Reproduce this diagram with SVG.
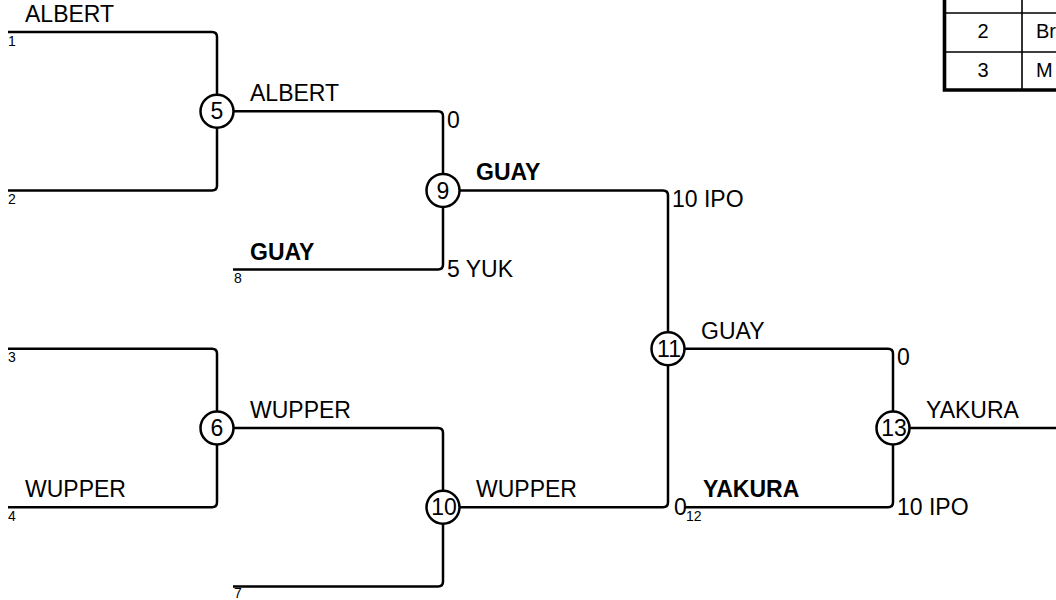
<svg xmlns="http://www.w3.org/2000/svg" width="1056" height="600" viewBox="0 0 1056 600">
<style>
.ln{fill:none;stroke:#000;stroke-width:2.5;stroke-linejoin:round}
.c{fill:#fff;stroke:#000;stroke-width:2.5}
.cn{font-family:"Liberation Sans",Arial,sans-serif;font-size:23px;text-anchor:middle;fill:#000}
.nm{font-family:"Liberation Sans",Arial,sans-serif;font-size:23px;fill:#000}
.b{font-weight:bold}
.sl{font-family:"Liberation Sans",Arial,sans-serif;font-size:14px;fill:#000}
.tb{font-family:"Liberation Sans",Arial,sans-serif;font-size:20px;fill:#000}
.tl{stroke:#000;stroke-width:1.6;fill:none}
.tt{stroke:#000;stroke-width:3.6;fill:none}
</style>
<rect width="1056" height="600" fill="#fff"/>
<g id="connectors">
<path class="ln" d="M8,32 H212 Q217,32 217,37 V94.7"/>
<path class="ln" d="M8,190.4 H212 Q217,190.4 217,185.4 V127.7"/>
<path class="ln" d="M8,348.8 H212 Q217,348.8 217,353.8 V411.5"/>
<path class="ln" d="M8,507.2 H212 Q217,507.2 217,502.2 V444.5"/>
<path class="ln" d="M233.5,111.2 H438 Q443,111.2 443,116.2 V173.9"/>
<path class="ln" d="M233,269.6 H438 Q443,269.6 443,264.6 V206.9"/>
<path class="ln" d="M233.5,428 H438 Q443,428 443,433 V490.7"/>
<path class="ln" d="M233,586.4 H438 Q443,586.4 443,581.4 V523.7"/>
<path class="ln" d="M459.5,190.4 H663 Q668,190.4 668,195.4 V332.3"/>
<path class="ln" d="M459.5,507.2 H663 Q668,507.2 668,502.2 V365.3"/>
<path class="ln" d="M684.5,348.8 H888 Q893,348.8 893,353.8 V411.5"/>
<path class="ln" d="M685,507.2 H888 Q893,507.2 893,502.2 V444.5"/>
<path class="ln" d="M909.5,428 H1056"/>
</g>
<g id="slots">
<text class="nm" x="25" y="22">ALBERT</text>
<text class="sl" x="8" y="45.5">1</text>
<text class="sl" x="8" y="204">2</text>
<text class="sl" x="8" y="362.3">3</text>
<text class="sl" x="8" y="520.7">4</text>
<text class="nm" x="25" y="497.2">WUPPER</text>
<text class="nm b" x="250" y="259.6">GUAY</text>
<text class="sl" x="234" y="283.1">8</text>
<text class="sl" x="234" y="598">7</text>
<text class="nm b" x="703" y="497.2">YAKURA</text>
<text class="sl" x="686" y="521">12</text>
</g>
<g id="m5">
<circle class="c" cx="217" cy="111.2" r="16.5"/>
<text class="cn" x="217" y="119.4">5</text>
<text class="nm" x="250" y="101.2">ALBERT</text>
</g>
<g id="m6">
<circle class="c" cx="217" cy="428" r="16.5"/>
<text class="cn" x="217" y="436.2">6</text>
<text class="nm" x="250" y="418">WUPPER</text>
</g>
<g id="m9">
<circle class="c" cx="443" cy="190.4" r="16.5"/>
<text class="cn" x="443" y="198.6">9</text>
<text class="nm b" x="476" y="180.4">GUAY</text>
<text class="nm" x="447" y="127.5">0</text>
<text class="nm" x="447" y="277.2">5 YUK</text>
</g>
<g id="m10">
<circle class="c" cx="443" cy="507.2" r="16.5"/>
<text class="cn" x="444" y="515.4">10</text>
<text class="nm" x="476" y="497.2">WUPPER</text>
</g>
<g id="m11">
<circle class="c" cx="668" cy="348.8" r="16.5"/>
<text class="cn" x="669" y="357">11</text>
<text class="nm" x="701" y="338.8">GUAY</text>
<text class="nm" x="672" y="206.6">10 IPO</text>
<text class="nm" x="674" y="514.8">0</text>
</g>
<g id="m13">
<circle class="c" cx="893" cy="428" r="16.5"/>
<text class="cn" x="894" y="436.2">13</text>
<text class="nm" x="926" y="418">YAKURA</text>
<text class="nm" x="897" y="365">0</text>
<text class="nm" x="897" y="514.8">10 IPO</text>
</g>
<g id="table">
<path class="tl" d="M944,13 H1056 M944,52 H1056 M1022,-5 V90"/>
<path class="tt" d="M944.5,-5 V90 H1056"/>
<text class="tb" x="983" y="37.5" text-anchor="middle">2</text>
<text class="tb" x="1036" y="37.5">Br</text>
<text class="tb" x="983" y="76.5" text-anchor="middle">3</text>
<text class="tb" x="1036" y="76.5">M</text>
</g>
</svg>
